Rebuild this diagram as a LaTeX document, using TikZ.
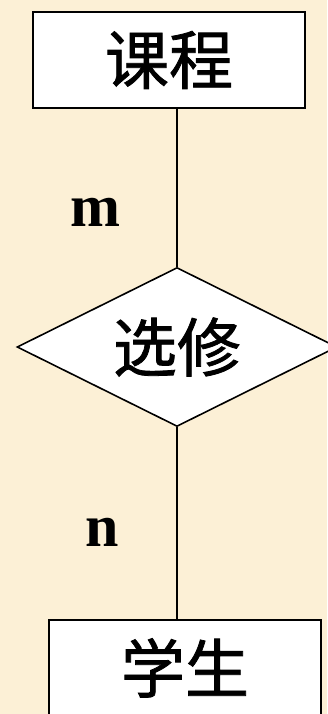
\documentclass[tikz,border=0pt]{standalone}
\usepackage{fontspec}
\setmainfont{Liberation Serif}
\newfontfamily\cjk[FakeBold=1.2]{Noto Sans CJK SC}
\usepackage{tikz}
\usetikzlibrary{shapes.geometric}

\definecolor{paper}{RGB}{252,240,214}

\begin{document}
\begin{tikzpicture}[x=1pt, y=-1pt,
	every node/.style={font=\cjk\fontsize{64}{64}\selectfont},
	entity/.style={draw, fill=white, line width=1.8pt, minimum width=272pt, minimum height=96pt, inner sep=0pt},
	relation/.style={draw, fill=white, diamond, aspect=2, line width=1.6pt, minimum width=320pt, minimum height=159pt, inner sep=0pt},
	card/.style={font=\bfseries\fontsize{60}{60}\selectfont}]
	\fill[paper] (0,0) rectangle (327,714);
	\useasboundingbox (0,0) rectangle (327,714);
	\node[entity] (kc) at (169,60) {课程};
	\node[relation] (xx) at (177,347) {选修};
	\node[entity, anchor=north] (xs) at (185,619) {学生};
	\draw[line width=1.4pt] (xx.north) -- (xx.north |- kc.south);
	\draw[line width=1.4pt] (xx.south) -- (xx.south |- xs.north);
	\node[card] (m) at (95,212) {m};
	\node[card] (n) at (102,532) {n};
\end{tikzpicture}
\end{document}
